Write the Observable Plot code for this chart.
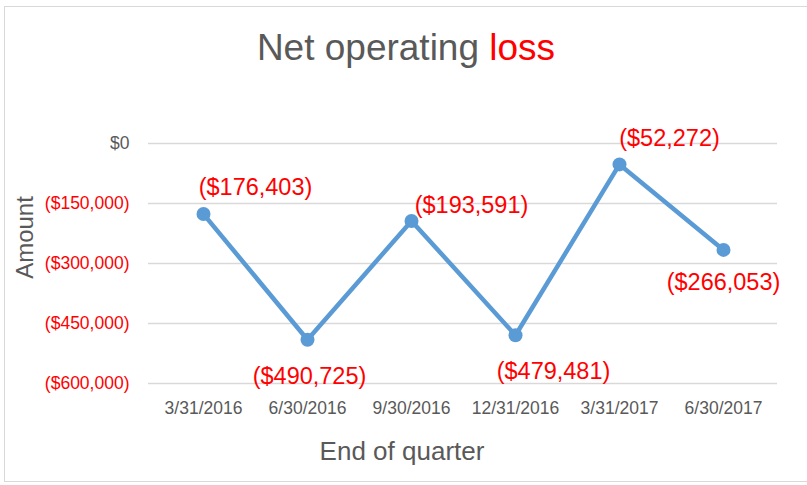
<!DOCTYPE html>
<html>
<head>
<meta charset="utf-8">
<script src="https://cdn.jsdelivr.net/npm/d3@7"></script>
<script src="https://cdn.jsdelivr.net/npm/@observablehq/plot@0.6"></script>
<style>
  html, body { margin: 0; padding: 0; background: #fff; }
  #wrap { position: relative; width: 807px; height: 485px; overflow: hidden; font-family: "Liberation Sans", Arial, sans-serif; }
  #frame { position: absolute; left: 4px; top: 6px; width: 820px; height: 476px; border: 1px solid #d9d9d9; box-sizing: border-box; }
  #title { position: absolute; left: 0; width: 812px; top: 24px; text-align: center; font-size: 37px; color: #595959; line-height: 48px; }
  #title .red { color: #ff0000; }
  #chart { position: absolute; left: 0; top: 0; }
</style>
</head>
<body>
<div id="wrap">
  <div id="frame"></div>
  <div id="chart"></div>
  <div id="title">Net operating <span class="red">loss</span></div>
</div>
<script>
const quarters = ["3/31/2016", "6/30/2016", "9/30/2016", "12/31/2016", "3/31/2017", "6/30/2017"];
const netLoss = [-176403, -490725, -193591, -479481, -52272, -266053];
const yTicks = [0, -150000, -300000, -450000, -600000];
const yTitle = "Amount";
const xTitle = "End of quarter";

const rows = quarters.map((q, i) => ({quarter: q, value: netLoss[i]}));
const money = v => v === 0 ? "$0" : (v < 0 ? `($${d3.format(",")(-v)})` : `$${d3.format(",")(v)}`);

// label offsets relative to each point (style/layout only)
const labelOffsets = [[52, -27], [2, 37], [60, -15], [38, 36], [50, -26], [0, 33]];

const gray = "#595959";
const font = "'Liberation Sans', Arial, sans-serif";

const labelMarks = rows.map((r, i) => Plot.text([r], {
  x: "quarter", y: "value", text: d => money(d.value),
  dx: labelOffsets[i][0], dy: labelOffsets[i][1],
  fill: "#ff0000", fontSize: 23.5
}));

const chart = Plot.plot({
  width: 807,
  height: 485,
  marginLeft: 148,
  marginRight: 30,
  marginTop: 143,
  marginBottom: 102,
  style: {fontFamily: font, background: "transparent", overflow: "visible"},
  x: {type: "point", domain: quarters, padding: 0.5, label: null},
  y: {domain: [-600000, 0], label: null},
  marks: [
    Plot.ruleY(yTicks, {stroke: "#d9d9d9", strokeWidth: 1.3}),
    Plot.axisY([0], {tickSize: 0, tickPadding: 19, fontSize: 17.5, fill: gray, tickFormat: money, label: null}),
    Plot.axisY(yTicks.filter(v => v !== 0), {tickSize: 0, tickPadding: 19, fontSize: 17.5, fill: "#ff0000", tickFormat: money, label: null}),
    Plot.axisX({tickSize: 0, tickPadding: 18, fontSize: 17.5, fill: gray, label: null}),
    Plot.text([yTitle], {frameAnchor: "left", textAnchor: "middle", dx: -123, dy: -26, rotate: -90, text: d => d, fontSize: 24, fill: gray}),
    Plot.text([xTitle], {frameAnchor: "bottom", dx: -61, dy: 76, text: d => d, fontSize: 26, fill: gray}),
    Plot.line(rows, {x: "quarter", y: "value", stroke: "#5b9bd5", strokeWidth: 4.5, strokeLinejoin: "round"}),
    Plot.dot(rows, {x: "quarter", y: "value", r: 7, fill: "#5b9bd5", stroke: "none"}),
    ...labelMarks
  ]
});
document.getElementById("chart").appendChild(chart);
</script>
</body>
</html>
